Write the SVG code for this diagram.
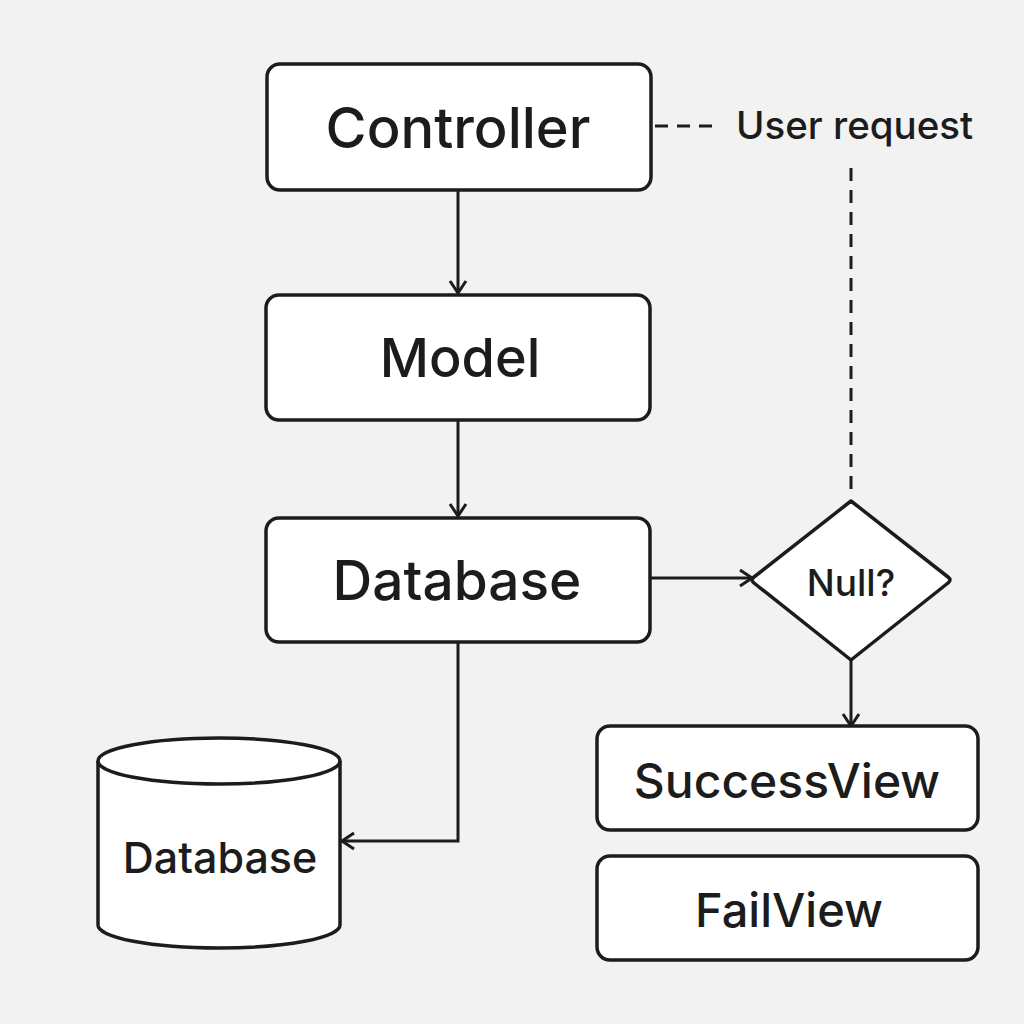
<svg xmlns="http://www.w3.org/2000/svg" width="1024" height="1024" viewBox="0 0 1024 1024">
<style>
.box{fill:#fff;stroke:#1c1c1c;stroke-width:3.5}
.lbl{font-family:Inter,"Liberation Sans",sans-serif;font-weight:500;fill:#1c1c1c;text-anchor:middle;dominant-baseline:central}
.con{fill:none;stroke:#1c1c1c;stroke-width:3}
.dash{fill:none;stroke:#1c1c1c;stroke-width:3;stroke-dasharray:13 9}
</style>
<defs>
<marker id="arr" viewBox="0 0 20 20" refX="18" refY="10" markerWidth="20" markerHeight="20" markerUnits="userSpaceOnUse" orient="auto">
<path d="M6,2 L18,10 L6,18" fill="none" stroke="#1c1c1c" stroke-width="3"/>
</marker>
</defs>
<rect width="1024" height="1024" fill="#f2f2f2"/>
<g id="connectors">
<line class="con" x1="458" y1="190" x2="458" y2="293" marker-end="url(#arr)"/>
<line class="con" x1="458" y1="420" x2="458" y2="516" marker-end="url(#arr)"/>
<line class="con" x1="650" y1="578" x2="752" y2="578" marker-end="url(#arr)"/>
<line class="con" x1="851" y1="660" x2="851" y2="726" marker-end="url(#arr)"/>
<polyline class="con" points="458,642 458,841 342,841" marker-end="url(#arr)"/>
<line class="dash" x1="655" y1="126" x2="720" y2="126"/>
<line class="dash" x1="851" y1="168" x2="851" y2="494"/>
</g>
<g id="controller">
<rect class="box" x="267" y="64" width="384" height="126" rx="13"/>
<text class="lbl" x="458" y="128" font-size="56">Controller</text>
</g>
<g id="user-request">
<text x="736" y="125" font-family="Inter,'Liberation Sans',sans-serif" font-weight="500" font-size="38.5" fill="#1c1c1c" dominant-baseline="central">User request</text>
</g>
<g id="model">
<rect class="box" x="266" y="295" width="384" height="125" rx="13"/>
<text class="lbl" x="460" y="357" font-size="54">Model</text>
</g>
<g id="database-service">
<rect class="box" x="266" y="518" width="384" height="124" rx="13"/>
<text class="lbl" x="457" y="580" font-size="55">Database</text>
</g>
<g id="null-check">
<path class="box" d="M851,501 L948,577 Q952,580 948,583 L851,660 L754,583 Q750,580 754,577 Z" stroke-linejoin="round"/>
<text class="lbl" x="851" y="582" font-size="37">Null?</text>
</g>
<g id="success-view">
<rect class="box" x="597" y="726" width="381" height="104" rx="13"/>
<text class="lbl" x="787" y="780" font-size="48">SuccessView</text>
</g>
<g id="fail-view">
<rect class="box" x="597" y="856" width="381" height="104" rx="13"/>
<text class="lbl" x="789" y="909" font-size="47">FailView</text>
</g>
<g id="database-store">
<path class="box" d="M98,761 L98,925 A121,23 0 0 0 340,925 L340,761 A121,23 0 0 0 98,761 Z"/>
<path d="M98,761 A121,23 0 0 0 340,761" fill="none" stroke="#1c1c1c" stroke-width="3.5"/>
<text class="lbl" x="220" y="857" font-size="43">Database</text>
</g>
</svg>
